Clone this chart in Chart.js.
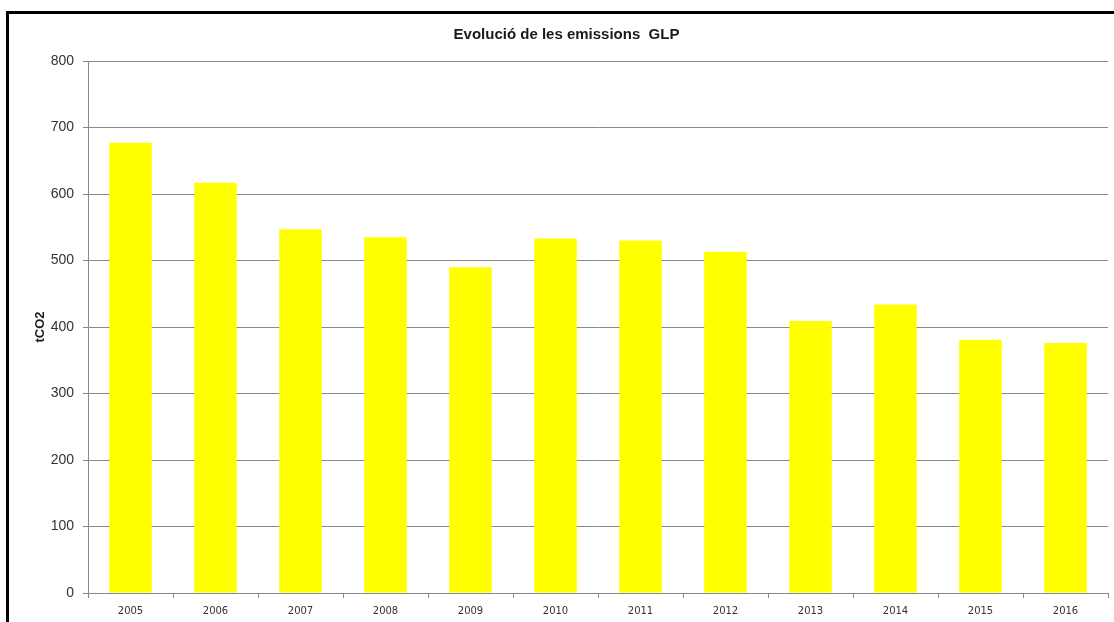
<!DOCTYPE html>
<html>
<head>
<meta charset="utf-8">
<script src="https://cdn.jsdelivr.net/npm/chart.js@4"></script>
<style>
  html, body { margin: 0; padding: 0; background: #fff; overflow: hidden; }
  #frame {
    position: absolute; left: 6px; top: 11px;
    width: 1120px; height: 620px;
    border-left: 3px solid #000; border-top: 3px solid #000;
  }
  #chart { display: block; }
</style>
</head>
<body>
<div id="frame">
  <canvas id="chart" width="1114" height="608" style="width:1114px;height:608px"></canvas>
</div>
<script>
// dades del gràfic
const years = ['2005', '2006', '2007', '2008', '2009', '2010', '2011', '2012', '2013', '2014', '2015', '2016'];
const emissions = [677, 617, 547, 535, 490, 533, 530, 513, 409, 434, 381, 376];
const yTicks = [0, 100, 200, 300, 400, 500, 600, 700, 800];

const gridGrey = '#888888';

document.addEventListener('DOMContentLoaded', function() {
    const ctx = document.getElementById('chart').getContext('2d');
    const chart = new Chart(ctx, {
        type: 'bar',
        data: {
            labels: years,
            datasets: [{
                label: 'GLP',
                data: emissions,
                backgroundColor: '#FFFF00',
                borderWidth: 0,
                barPercentage: 0.5,
                categoryPercentage: 1.0
            }]
        },
        options: {
            responsive: false,
            animation: false,
            layout: { padding: { left: 16, right: 15, top: 0, bottom: 0 } },
            plugins: {
                legend: { display: false },
                tooltip: { enabled: false },
                title: {
                    display: true,
                    text: 'Evolució de les emissions  GLP',
                    color: '#1a1a1a',
                    font: { family: 'Liberation Sans, Arial, sans-serif', size: 15, weight: 'bold' },
                    padding: { top: 12, bottom: 17 }
                }
            },
            scales: {
                x: {
                    grid: {
                        display: true,
                        drawOnChartArea: false,
                        drawTicks: true,
                        tickLength: 5,
                        color: gridGrey
                    },
                    border: { color: gridGrey },
                    ticks: {
                        color: '#333',
                        font: { family: 'DejaVu Sans, Tahoma, sans-serif', size: 10 },
                        padding: 7,
                        maxRotation: 0
                    },
                    afterFit: function(scale) { scale.height = 29; }
                },
                y: {
                    min: 0,
                    max: 800,
                    afterBuildTicks: function(scale) {
                        scale.ticks = yTicks.map(v => ({ value: v }));
                    },
                    grid: {
                        color: gridGrey,
                        drawTicks: true,
                        tickLength: 5
                    },
                    border: { color: gridGrey },
                    ticks: {
                        color: '#333',
                        font: { family: 'Liberation Sans, Arial, sans-serif', size: 14 },
                        padding: 9
                    },
                    title: {
                        display: true,
                        text: 'tCO2',
                        color: '#1a1a1a',
                        font: { family: 'Liberation Sans, Arial, sans-serif', size: 13, weight: 'bold' },
                        padding: { top: 8, bottom: 0 }
                    },
                    afterFit: function(scale) { scale.width = 63; }
                }
            }
        }
    });
    console.log(chart.chartArea);
});
</script>
</body>
</html>
